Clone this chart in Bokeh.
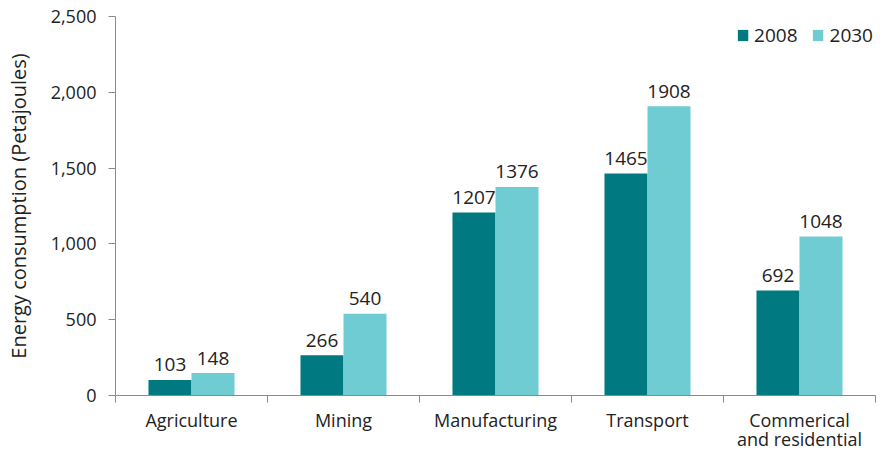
from bokeh.plotting import figure
from bokeh.models import ColumnDataSource, FixedTicker, NumeralTickFormatter, Range1d, Legend, LegendItem
from bokeh.embed import file_html
from bokeh.resources import INLINE

categories = ["Agriculture", "Mining", "Manufacturing", "Transport", "Commerical\nand residential"]
values_2008 = [103, 266, 1207, 1465, 692]
values_2030 = [148, 540, 1376, 1908, 1048]
series_names = ["2008", "2030"]
y_ticks = [0, 500, 1000, 1500, 2000, 2500]

DARK = "#007A80"
LIGHT = "#70CCD3"
FONT = "Open Sans"
TEXT = "#222222"
AXIS = "#8a8a8a"
FS = "18px"
FS2 = "19px"

bw = 0.283
centers = [i + 0.5 for i in range(len(categories))]
src08 = ColumnDataSource(dict(x=[c - bw / 2 for c in centers], top=values_2008,
                              lab=[str(v) for v in values_2008]))
src30 = ColumnDataSource(dict(x=[c + bw / 2 for c in centers], top=values_2030,
                              lab=[str(v) for v in values_2030]))

p = figure(width=886, height=453, output_backend="svg", toolbar_location=None,
           x_range=Range1d(0, len(categories)), y_range=Range1d(0, 2500),
           min_border_left=115, min_border_right=11, min_border_top=16, min_border_bottom=58)
p.outline_line_color = None
p.xgrid.grid_line_color = None
p.ygrid.grid_line_color = None
p.background_fill_color = "white"
p.border_fill_color = "white"

r1 = p.vbar(x="x", top="top", width=bw, source=src08, fill_color=DARK, line_color=None)
r2 = p.vbar(x="x", top="top", width=bw, source=src30, fill_color=LIGHT, line_color=None)

for s in (src08, src30):
    p.text(x="x", y="top", text="lab", source=s, y_offset=-15, text_align="center",
           text_baseline="alphabetic", text_font_size=FS2, text_color=TEXT,
           text_font={"value": FONT})

# x axis
xa = p.xaxis[0]
xa.ticker = FixedTicker(ticks=centers, minor_ticks=list(range(len(categories) + 1)))
xa.major_label_overrides = {c: lab for c, lab in zip(centers, categories)}
xa.major_tick_out = 0
xa.major_tick_in = 0
xa.minor_tick_out = 7
xa.minor_tick_in = 0
xa.minor_tick_line_color = AXIS
xa.axis_line_color = AXIS
xa.major_label_standoff = 5
xa.major_label_text_font = FONT
xa.major_label_text_font_size = FS
xa.major_label_text_color = TEXT
xa.major_label_text_line_height = 0.8

# y axis
ya = p.yaxis[0]
ya.ticker = FixedTicker(ticks=y_ticks)
ya.formatter = NumeralTickFormatter(format="0,0")
ya.major_tick_out = 7
ya.major_tick_in = 0
ya.minor_tick_line_color = None
ya.axis_line_color = AXIS
ya.major_tick_line_color = AXIS
ya.major_label_standoff = 12
ya.major_label_text_font = FONT
ya.major_label_text_font_size = FS
ya.major_label_text_color = TEXT
ya.axis_label = "Energy consumption (Petajoules)"
ya.axis_label_text_font = FONT
ya.axis_label_text_font_size = "20px"
ya.axis_label_text_font_style = "normal"
ya.axis_label_text_color = TEXT
ya.axis_label_standoff = 16

legend = Legend(items=[LegendItem(label=series_names[0], renderers=[r1]),
                       LegendItem(label=series_names[1], renderers=[r2])],
                location="top_right", orientation="horizontal",
                border_line_color=None, background_fill_alpha=0,
                glyph_width=13, glyph_height=14, label_standoff=5, spacing=14,
                label_height=34, padding=2, margin=2,
                label_text_font=FONT, label_text_font_size=FS2, label_text_color=TEXT)
p.add_layout(legend)

open("out.html", "w").write(file_html(p, INLINE))
